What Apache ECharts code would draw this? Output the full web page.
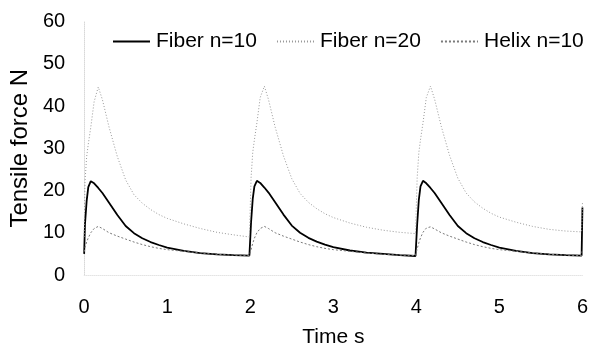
<!DOCTYPE html>
<html>
<head>
<meta charset="utf-8">
<script src="https://cdn.jsdelivr.net/npm/echarts@6/dist/echarts.min.js"></script>
<style>html,body{margin:0;padding:0;background:#fff}#c{width:591px;height:353px}</style>
</head>
<body>
<div id="c"></div>
<script>
var seriesNames = ['Fiber n=10', 'Fiber n=20', 'Helix n=10'];
var xTicks = [0, 1, 2, 3, 4, 5, 6];
var yTicks = [0, 10, 20, 30, 40, 50, 60];

var time = [
  0, 0.01, 0.03, 0.05, 0.08, 0.12, 0.17, 0.22, 0.3, 0.4, 0.5, 0.6, 0.7, 0.8, 0.9, 1.0, 1.2, 1.4, 1.6, 1.8, 1.99,
  2, 2.01, 2.03, 2.05, 2.08, 2.12, 2.17, 2.22, 2.3, 2.4, 2.5, 2.6, 2.7, 2.8, 2.9, 3.0, 3.2, 3.4, 3.6, 3.8, 3.99,
  4, 4.01, 4.03, 4.05, 4.08, 4.12, 4.17, 4.22, 4.3, 4.4, 4.5, 4.6, 4.7, 4.8, 4.9, 5.0, 5.2, 5.4, 5.6, 5.8, 5.99,
  6.0
];

var fiber10 = [
  5.0, 12, 17.5, 20.8, 22.2, 21.7, 20.6, 19.4, 17.1, 14.2, 11.6, 9.9, 8.7, 7.8, 7.1, 6.5, 5.7, 5.2, 4.9, 4.7, 4.6,
  4.6, 12.5, 18, 21, 22.3, 21.8, 20.7, 19.5, 17.2, 14.3, 11.7, 10.0, 8.8, 7.9, 7.2, 6.6, 5.8, 5.3, 5.0, 4.7, 4.5,
  4.5, 12, 17.8, 21, 22.3, 21.7, 20.6, 19.4, 17.1, 14.2, 11.6, 9.9, 8.7, 7.8, 7.1, 6.5, 5.7, 5.2, 4.9, 4.7, 4.6,
  16
];

var fiber20 = [
  9.0, 22, 28, 31, 35, 41, 44.5, 41.5, 35, 28, 22.5, 19, 17, 15.5, 14.3, 13.4, 12.1, 11, 10.1, 9.5, 9.0,
  9.0, 23, 29, 32, 36, 42, 44.7, 41.5, 35, 28.2, 22.8, 19.3, 17.2, 15.7, 14.5, 13.6, 12.3, 11.3, 10.6, 10.1, 9.8,
  9.8, 23, 29, 32, 36, 42, 44.7, 41.6, 35.2, 28.3, 22.9, 19.4, 17.3, 15.8, 14.6, 13.7, 12.5, 11.5, 10.8, 10.4, 10.2,
  17
];

var helix10 = [
  5.5, 6.5, 7.8, 8.8, 10.0, 11.0, 11.5, 11.0, 10.0, 9.2, 8.5, 7.8, 7.2, 6.7, 6.3, 6.0, 5.6, 5.2, 4.9, 4.7, 4.6,
  4.6, 6.0, 7.5, 8.7, 10.0, 11.0, 11.5, 11.0, 10.0, 9.2, 8.5, 7.8, 7.2, 6.7, 6.3, 6.0, 5.6, 5.2, 4.9, 4.7, 4.6,
  4.6, 6.2, 7.6, 8.8, 10.1, 11.1, 11.4, 10.9, 10.0, 9.2, 8.5, 7.8, 7.2, 6.7, 6.3, 6.0, 5.6, 5.2, 4.9, 4.7, 4.6,
  6
];

function pairs(vals) {
  return time.map(function (t, i) { return [t, vals[i]]; });
}

var font = 'Liberation Sans, Arial, sans-serif';
var chart = echarts.init(document.getElementById('c'), null, { renderer: 'canvas' });
chart.setOption({
  animation: false,
  backgroundColor: '#fff',
  grid: { left: 84, right: 3, top: 21.5, bottom: 76.5, containLabel: false },
  legend: {
    data: seriesNames,
    left: 112, top: 31,
    padding: 0,
    itemWidth: 37, itemHeight: 14, itemGap: 19,
    itemStyle: { opacity: 0 },
    textStyle: { fontFamily: font, fontSize: 21, color: '#000', padding: [0, 0, 0, 1] }
  },
  xAxis: {
    type: 'value', min: xTicks[0], max: xTicks[xTicks.length - 1], interval: 1,
    name: 'Time s', nameLocation: 'middle', nameGap: 52,
    nameTextStyle: { fontFamily: font, fontSize: 21, color: '#000' },
    axisLine: { show: true, lineStyle: { color: '#e4e4e4', type: 'dotted', width: 1 } },
    axisTick: { show: false },
    splitLine: { show: false },
    axisLabel: { fontFamily: font, fontSize: 20, color: '#000', margin: 22 }
  },
  yAxis: {
    type: 'value', min: yTicks[0], max: yTicks[yTicks.length - 1], interval: 10,
    name: 'Tensile force N', nameLocation: 'middle', nameGap: 50, nameRotate: 90,
    nameTextStyle: { fontFamily: font, fontSize: 24, color: '#000' },
    axisLine: { show: true, lineStyle: { color: '#d8d8d8', type: 'dotted', width: 1 } },
    axisTick: { show: false },
    splitLine: { show: false },
    axisLabel: { fontFamily: font, fontSize: 20, color: '#000', margin: 19 }
  },
  series: [
    {
      name: seriesNames[0], type: 'line', data: pairs(fiber10), symbol: 'none',
      lineStyle: { color: '#000', width: 1.8 }, itemStyle: { color: '#000' }
    },
    {
      name: seriesNames[1], type: 'line', data: pairs(fiber20), symbol: 'none',
      lineStyle: { color: '#999', width: 1, type: [1, 2] }, itemStyle: { color: '#999' }
    },
    {
      name: seriesNames[2], type: 'line', data: pairs(helix10), symbol: 'none',
      lineStyle: { color: '#7a7a7a', width: 1, type: [2, 2] }, itemStyle: { color: '#7a7a7a' }
    }
  ]
});
</script>
</body>
</html>
